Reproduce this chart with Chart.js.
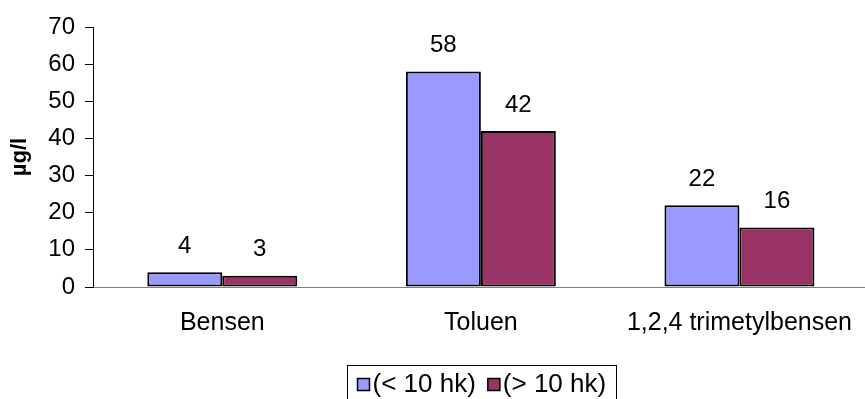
<!DOCTYPE html>
<html>
<head>
<meta charset="utf-8">
<script src="https://cdn.jsdelivr.net/npm/chart.js@4/dist/chart.umd.min.js"></script>
<style>
  html, body { margin: 0; padding: 0; overflow: hidden; background: #fff; }
  #wrap { width: 873px; height: 399px; }
</style>
</head>
<body>
<div id="wrap"><canvas id="c" width="873" height="399"></canvas></div>
<script>
// Concentrations by compound, split by group
const categories = ['Bensen', 'Toluen', '1,2,4 trimetylbensen'];
const seriesNames = ['(< 10 hk)', '(> 10 hk)'];
const under10 = [4, 58, 22];
const over10 = [3, 42, 16];
const yTicks = [0, 10, 20, 30, 40, 50, 60, 70];
const yTitle = 'µg/l';

const FONT = '"Liberation Sans", Arial, sans-serif';
const BLUE = '#9999FF';
const PLUM = '#993366';

// Value labels above each bar
const valueLabels = {
  id: 'valueLabels',
  afterDatasetsDraw(chart) {
    const { ctx } = chart;
    ctx.save();
    ctx.font = '24px ' + FONT;
    ctx.fillStyle = '#000';
    ctx.textAlign = 'center';
    ctx.textBaseline = 'middle';
    chart.data.datasets.forEach((ds, i) => {
      chart.getDatasetMeta(i).data.forEach((bar, j) => {
        ctx.fillText(String(ds.data[j]), bar.x, bar.y - 26);
      });
    });
    ctx.restore();
  }
};

// Legend inside a thin framed box below the axis
const boxedLegend = {
  id: 'boxedLegend',
  afterDraw(chart) {
    const { ctx, chartArea } = chart;
    ctx.save();
    ctx.font = '26px ' + FONT;
    const sw = 12, gapSw = 3, gapItem = 12, padX = 10;
    const items = chart.data.datasets.map(d => ({
      label: d.label, color: d.backgroundColor, w: ctx.measureText(d.label).width
    }));
    const total = padX * 2 + items.reduce((a, it) => a + sw + gapSw + it.w, 0) + gapItem * (items.length - 1);
    const left = Math.round((chartArea.left + chartArea.right) / 2 - total / 2) + 0.5;
    const top = Math.round(chartArea.bottom + 78) + 0.5;
    ctx.strokeStyle = '#000';
    ctx.lineWidth = 1;
    ctx.strokeRect(left, top, Math.round(total), 60);
    let x = left + padX;
    const cy = top + 19;
    ctx.textBaseline = 'middle';
    ctx.textAlign = 'left';
    items.forEach(it => {
      ctx.fillStyle = it.color;
      ctx.fillRect(x, cy - sw / 2, sw, sw);
      ctx.lineWidth = 1.5;
      ctx.strokeStyle = '#000';
      ctx.strokeRect(x, cy - sw / 2, sw, sw);
      x += sw + gapSw;
      ctx.fillStyle = '#000';
      ctx.fillText(it.label, x, cy);
      x += it.w + gapItem;
    });
    ctx.restore();
  }
};

new Chart(document.getElementById('c'), {
  type: 'bar',
  data: {
    labels: categories,
    datasets: [
      { label: seriesNames[0], data: under10, backgroundColor: BLUE },
      { label: seriesNames[1], data: over10, backgroundColor: PLUM }
    ]
  },
  options: {
    responsive: false,
    animation: false,
    layout: { padding: { top: 27, right: 0, bottom: 0, left: 0 } },
    datasets: {
      bar: {
        categoryPercentage: 0.58,
        barPercentage: 1.0,
        borderColor: '#000',
        borderWidth: 2,
        borderSkipped: false
      }
    },
    plugins: {
      legend: { display: false },
      tooltip: { enabled: false }
    },
    scales: {
      x: {
        grid: { display: false, drawTicks: false },
        border: { display: true, color: '#808080', width: 1 },
        ticks: { color: '#000', font: { family: FONT, size: 25 }, padding: 21, maxRotation: 0, autoSkip: false },
        afterFit: s => { s.height = 112; }
      },
      y: {
        min: 0,
        max: 70,
        afterBuildTicks: s => { s.ticks = yTicks.map(v => ({ value: v })); },
        grid: { display: true, drawOnChartArea: false, drawTicks: true, tickLength: 8, color: '#000' },
        border: { display: true, color: '#000', width: 1 },
        ticks: { color: '#000', font: { family: FONT, size: 24 }, padding: 10 },
        title: { display: true, text: yTitle, color: '#000', font: { family: FONT, size: 22, weight: 'bold' }, padding: { top: 7, bottom: 0 } },
        afterFit: s => { s.width = 93; }
      }
    }
  },
  plugins: [valueLabels, boxedLegend]
});
</script>
</body>
</html>
